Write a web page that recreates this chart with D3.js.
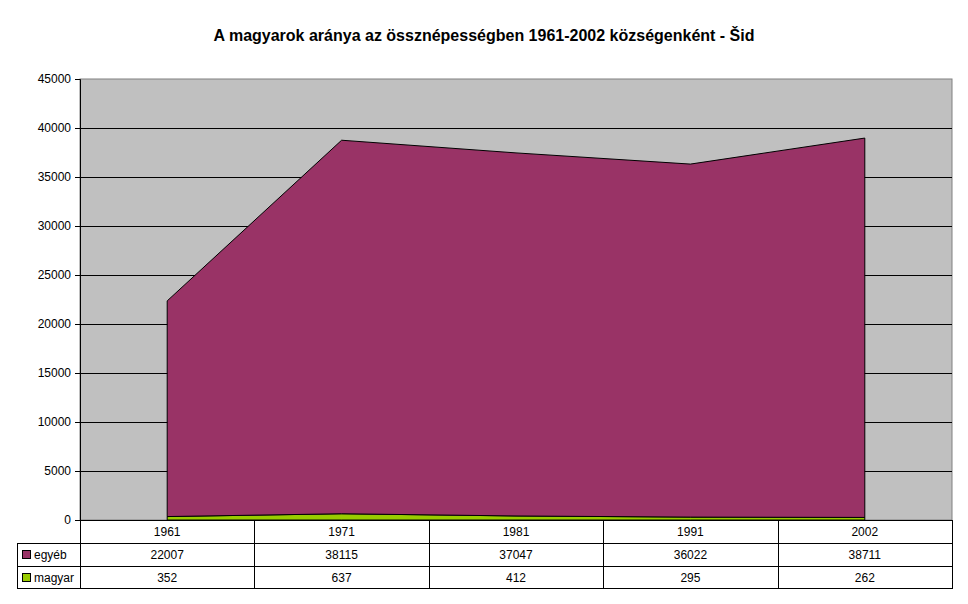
<!DOCTYPE html>
<html>
<head>
<meta charset="utf-8">
<script src="https://cdn.jsdelivr.net/npm/d3@7"></script>
<style>
  body { margin: 0; background: #fff; }
  text { font-family: Arial, "Liberation Sans", sans-serif; }
</style>
</head>
<body>
<div id="chart"></div>
<script>
// adatok
var years = ["1961", "1971", "1981", "1991", "2002"];
var magyar = [352, 637, 412, 295, 262];
var egyeb = [22007, 38115, 37047, 36022, 38711];
var seriesNames = ["egyéb", "magyar"];
var seriesColors = ["#993366", "#99CC00"];
var yTicks = [0, 5000, 10000, 15000, 20000, 25000, 30000, 35000, 40000, 45000];

var W = 968, H = 604;
var margin = {top: 79, left: 80, right: 16},
    plotW = W - margin.left - margin.right,
    plotH = 441,
    rowH = 23;

var svg = d3.select("#chart")
    .append("svg")
    .attr("width", W)
    .attr("height", H);

svg.append("text")
    .attr("x", 484)
    .attr("y", 41)
    .attr("text-anchor", "middle")
    .style("font-size", "16px")
    .style("font-weight", "bold")
    .text("A magyarok aránya az össznépességben 1961-2002 községenként - Šid");

var g = svg.append("g")
    .attr("transform", "translate(" + margin.left + "," + margin.top + ")");

var x = d3.scaleBand()
    .domain(years)
    .range([0, plotW]);

var y = d3.scaleLinear()
    .domain([0, 45000])
    .range([plotH, 0]);

// háttér
g.append("rect")
    .attr("width", plotW)
    .attr("height", plotH)
    .attr("fill", "#C0C0C0")
    .attr("stroke", "#808080");

// rácsvonalak
g.selectAll(".grid")
    .data(yTicks.slice(1, -1))
    .enter()
    .append("line")
    .attr("x1", 0)
    .attr("x2", plotW)
    .attr("y1", d => Math.round(y(d)) + 0.5)
    .attr("y2", d => Math.round(y(d)) + 0.5)
    .attr("stroke", "#000");

var data = years.map((yr, i) => ({year: yr, magyar: magyar[i], "egyéb": egyeb[i]}));
var stack = d3.stack().keys(["magyar", "egyéb"]);
var layers = stack(data);

var area = d3.area()
    .x(d => x(d.data.year) + x.bandwidth() / 2)
    .y0(d => y(d[0]))
    .y1(d => y(d[1]));

g.selectAll(".layer")
    .data(layers)
    .enter()
    .append("path")
    .attr("d", area)
    .attr("fill", d => d.key == "magyar" ? seriesColors[1] : seriesColors[0])
    .attr("stroke", "#000")
    .attr("stroke-width", 1);

// y tengely
var yAxis = d3.axisLeft(y)
    .tickValues(yTicks)
    .tickSize(5)
    .tickFormat(d3.format("d"));

g.append("g")
    .call(yAxis)
    .call(s => s.select(".domain").attr("stroke", "#000").attr("d", "M-5,0.5H0.5V" + plotH))
    .call(s => s.selectAll(".tick text")
        .style("font-size", "12px")
        .style("font-family", "Arial, 'Liberation Sans', sans-serif")
        .attr("fill", "#000")
        .attr("x", -9));

// adattábla
var table = g.append("g").attr("transform", "translate(0," + plotH + ")");
var legendLeft = 17 - margin.left;

table.append("rect")
    .attr("x", 0.5)
    .attr("y", 0.5)
    .attr("width", plotW)
    .attr("height", rowH)
    .attr("fill", "none")
    .attr("stroke", "#000");

table.append("rect")
    .attr("x", legendLeft + 0.5)
    .attr("y", rowH + 0.5)
    .attr("width", plotW - legendLeft)
    .attr("height", rowH * 2 - 1)
    .attr("fill", "none")
    .attr("stroke", "#000");

table.append("line")
    .attr("x1", legendLeft)
    .attr("x2", plotW)
    .attr("y1", rowH * 2 + 0.5)
    .attr("y2", rowH * 2 + 0.5)
    .attr("stroke", "#000");

table.selectAll(".vline")
    .data(years)
    .enter()
    .append("line")
    .attr("x1", d => Math.round(x(d)) + 0.5)
    .attr("x2", d => Math.round(x(d)) + 0.5)
    .attr("y1", 0)
    .attr("y2", rowH * 3 - 1)
    .attr("stroke", "#000");

table.selectAll(".yr")
    .data(years)
    .enter()
    .append("text")
    .attr("x", d => x(d) + x.bandwidth() / 2)
    .attr("y", 16)
    .attr("text-anchor", "middle")
    .style("font-size", "12px")
    .text(d => d);

var rows = [egyeb, magyar];
rows.forEach(function(vals, r) {
    var ry = rowH * (r + 1);
    table.append("rect")
        .attr("x", legendLeft + 5.5)
        .attr("y", ry + 7.5)
        .attr("width", 8)
        .attr("height", 8)
        .attr("fill", seriesColors[r])
        .attr("stroke", "#000");
    table.append("text")
        .attr("x", legendLeft + 17)
        .attr("y", ry + 16)
        .style("font-size", "12px")
        .text(seriesNames[r]);
    table.selectAll(".v" + r)
        .data(vals)
        .enter()
        .append("text")
        .attr("x", (d, i) => x(years[i]) + x.bandwidth() / 2)
        .attr("y", ry + 16)
        .attr("text-anchor", "middle")
        .style("font-size", "12px")
        .text(d => d);
});
</script>
</body>
</html>
